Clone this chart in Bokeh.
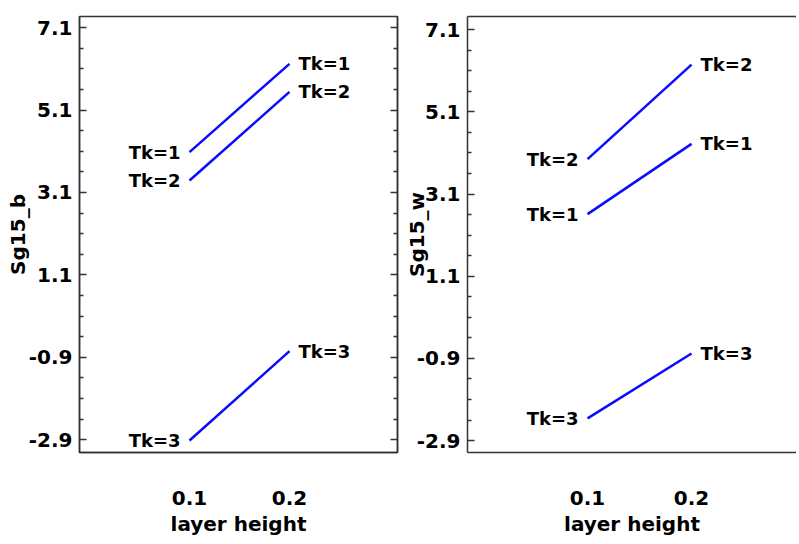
from bokeh.plotting import figure
from bokeh.models import ColumnDataSource, FixedTicker, LinearAxis, Range1d, CustomJSTickFormatter
from bokeh.layouts import row
from bokeh.embed import file_html
from bokeh.resources import INLINE
from bokeh.core.properties import value

# ---- data ----
layer_height = [0.1, 0.2]
tk_names = ["Tk=1", "Tk=2", "Tk=3"]
sg15_b = {
    "Tk=1": [4.08, 6.22],
    "Tk=2": [3.39, 5.54],
    "Tk=3": [-2.92, -0.75],
}
sg15_w = {
    "Tk=1": [2.61, 4.32],
    "Tk=2": [3.95, 6.25],
    "Tk=3": [-2.36, -0.78],
}
x_ticks = [0.1, 0.2]
y_major_ticks = [-2.9, -0.9, 1.1, 3.1, 5.1, 7.1]
y_minor_ticks = [-2.4, -1.9, -1.4, -0.4, 0.1, 0.6, 1.6, 2.1, 2.6,
                 3.6, 4.1, 4.6, 5.6, 6.1, 6.6]

FONT = "DejaVu Sans"
FRAME = "#333333"
BLUE = "#0a0aff"
FIG_H = 544


def style_axis_common(ax):
    ax.axis_line_color = FRAME
    ax.axis_line_width = 1.5
    ax.major_tick_line_color = FRAME
    ax.minor_tick_line_color = FRAME
    ax.major_tick_line_width = 1.5
    ax.minor_tick_line_width = 1.5
    ax.major_label_text_font = FONT
    ax.major_label_text_font_style = "bold"
    ax.major_label_text_font_size = "20px"
    ax.major_label_text_color = "black"
    ax.axis_label_text_font = FONT
    ax.axis_label_text_font_style = "bold"
    ax.axis_label_text_font_size = "20px"
    ax.axis_label_text_color = "black"


def make_panel(data, ylabel, width, x_range, y_range, mb_top, mb_left, mb_right,
               label_standoff, mirror_right, outline):
    p = figure(width=width, height=FIG_H, output_backend="svg", toolbar_location=None,
               x_range=Range1d(*x_range), y_range=Range1d(*y_range),
               min_border_top=mb_top, min_border_left=mb_left,
               min_border_right=mb_right, min_border_bottom=92,
               background_fill_color="white", border_fill_color="white")
    p.grid.visible = False
    if outline:
        p.outline_line_color = FRAME
        p.outline_line_width = 1.5
    else:
        p.outline_line_color = None

    fmt = CustomJSTickFormatter(code="return tick.toFixed(1)")
    # y axis
    ya = p.yaxis[0]
    style_axis_common(ya)
    ya.ticker = FixedTicker(ticks=y_major_ticks, minor_ticks=y_minor_ticks)
    ya.formatter = fmt
    ya.major_tick_in = 7
    ya.major_tick_out = 0
    ya.minor_tick_in = 4
    ya.minor_tick_out = 0
    ya.major_label_standoff = 7
    ya.axis_label = ylabel
    ya.axis_label_standoff = label_standoff

    # x axis
    xa = p.xaxis[0]
    style_axis_common(xa)
    xa.ticker = FixedTicker(ticks=x_ticks)
    xa.formatter = fmt
    xa.major_tick_in = 0
    xa.major_tick_out = 0
    xa.minor_tick_in = 0
    xa.minor_tick_out = 0
    xa.major_label_standoff = 38
    xa.axis_label = "layer height"
    xa.axis_label_standoff = 4

    blank = CustomJSTickFormatter(code="return ''")
    if mirror_right:
        ra = LinearAxis(ticker=FixedTicker(ticks=y_major_ticks, minor_ticks=y_minor_ticks),
                        formatter=blank)
        style_axis_common(ra)
        ra.major_tick_in = 7
        ra.major_tick_out = 0
        ra.minor_tick_in = 4
        ra.minor_tick_out = 0
        ra.major_label_standoff = 0
        ra.major_label_text_font_size = "1px"
        p.add_layout(ra, "right")
    if not outline:
        ta = LinearAxis(ticker=FixedTicker(ticks=[]), formatter=blank)
        style_axis_common(ta)
        ta.major_tick_in = 0
        ta.major_tick_out = 0
        ta.minor_tick_in = 0
        ta.minor_tick_out = 0
        ta.major_label_standoff = 0
        ta.major_label_text_font_size = "1px"
        p.add_layout(ta, "above")

    starts = dict(x=[], y=[], t=[])
    ends = dict(x=[], y=[], t=[])
    for name in tk_names:
        ys = data[name]
        p.line(layer_height, ys, line_color=BLUE, line_width=2.5)
        starts["x"].append(layer_height[0]); starts["y"].append(ys[0]); starts["t"].append(name)
        ends["x"].append(layer_height[-1]); ends["y"].append(ys[-1]); ends["t"].append(name)

    p.text(x="x", y="y", text="t", source=ColumnDataSource(starts),
           text_align="right", text_baseline="middle", x_offset=-9,
           text_font=value(FONT), text_font_style="bold", text_font_size="18px",
           text_color="black")
    p.text(x="x", y="y", text="t", source=ColumnDataSource(ends),
           text_align="left", text_baseline="middle", x_offset=9,
           text_font=value(FONT), text_font_style="bold", text_font_size="18px",
           text_color="black")
    return p


p1 = make_panel(sg15_b, "Sg15_b", 400, (-0.01, 0.308), (-3.21, 7.37),
                mb_top=14, mb_left=79, mb_right=3, label_standoff=-4,
                mirror_right=True, outline=True)
p2 = make_panel(sg15_w, "Sg15_w", 396, (-0.0154, 0.3009), (-3.19, 7.42),
                mb_top=16, mb_left=67, mb_right=0, label_standoff=-15,
                mirror_right=False, outline=False)

layout = row(p1, p2, spacing=0)
open("out.html", "w").write(file_html(layout, INLINE))
